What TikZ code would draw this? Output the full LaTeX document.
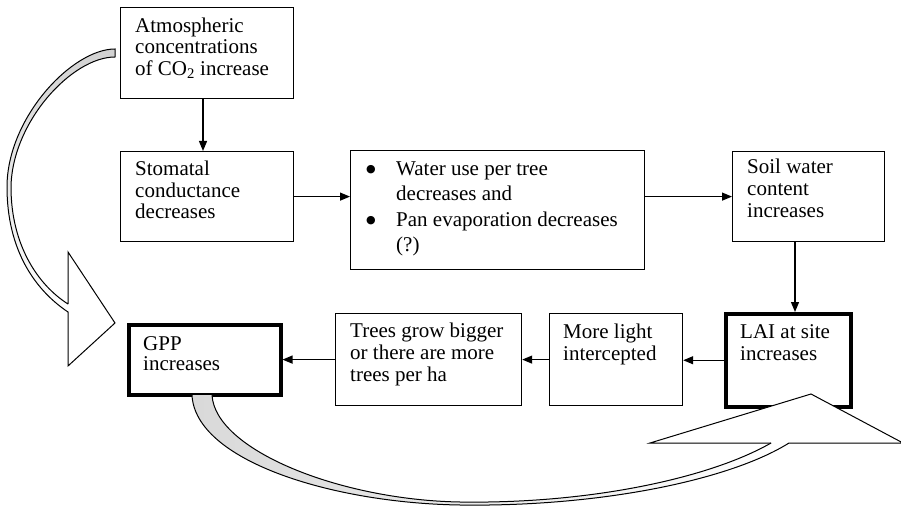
\documentclass[tikz,border=0pt]{standalone}
\usepackage{fontspec}
\setmainfont{Liberation Serif}
\newfontfamily\symfont{DejaVu Sans}
\usetikzlibrary{arrows.meta,calc}
\newcommand{\mybul}{\makebox[30pt][l]{\raisebox{2.5pt}{\symfont\fontsize{11}{11}\selectfont ●}}}
\begin{document}
\begin{tikzpicture}[x=1pt,y=-1pt,
  box/.style={draw,line width=1.2pt,inner sep=0pt,anchor=north west},
  boldbox/.style={draw,line width=3.5pt,inner sep=0pt,anchor=north west},
  txt/.style={anchor=north west,inner sep=0pt,align=left,font=\fontsize{21}{21.7}\selectfont},
  arr/.style={line width=1.2pt,-{Triangle[length=10pt,width=8pt]}},
  bigline/.style={line width=1pt,line join=miter}]
\useasboundingbox (0,0) rectangle (901,510);
% boxes
\node[box,minimum width=173pt,minimum height=91pt] (b1) at (120,7) {};
\node[box,minimum width=173pt,minimum height=90pt] (b2) at (120,151) {};
\node[box,minimum width=294pt,minimum height=119pt] (b3) at (350,150) {};
\node[box,minimum width=152pt,minimum height=90pt] (b4) at (732,151) {};
\node[boldbox,minimum width=125pt,minimum height=93pt] (b5) at (724,312) {};
\node[box,minimum width=133pt,minimum height=92pt] (b6) at (549,313) {};
\node[box,minimum width=186pt,minimum height=92pt] (b7) at (335,313) {};
\node[boldbox,minimum width=152pt,minimum height=70pt] (b8) at (127,323) {};
% texts
\node[txt] (t1) at (135,17.4) {Atmospheric\\concentrations\\of CO\textsubscript{2} increase};
\node[txt] (t2) at (135,160.7) {Stomatal\\conductance\\decreases};
\node[txt,font=\fontsize{21}{25.5}\selectfont] (t3) at (366,161.1) {\mybul Water use per tree\\\hspace*{30pt}decreases and\\\mybul Pan evaporation decreases\\\hspace*{30pt}(?)};
\node[txt] (t4) at (747,159) {Soil water\\content\\increases};
\node[txt] (t5) at (740,324.4) {LAI at site\\increases};
\node[txt] (t6) at (563,324) {More light\\intercepted};
\node[txt,font=\fontsize{21}{22.3}\selectfont] (t7) at (350,322.4) {Trees grow bigger\\or there are more\\trees per ha};
\node[txt,font=\fontsize{21}{20.7}\selectfont] (t8) at (143,336.1) {GPP\\increases};
% connectors
\coordinate (x1) at (203,0);
\coordinate (x2) at (795,0);
\draw[arr] (b1.south -| x1) -- (b2.north -| x1);
\draw[arr] (b2.east) -- (b2.east -| b3.west);
\draw[arr] (b3.east |- b4.west) -- (b4.west);
\draw[arr] (b4.south -| x2) -- (b5.north -| x2);
\draw[arr] (b5.west) -- (b5.west -| b6.east);
\draw[arr] (b6.west) -- (b6.west -| b7.east);
\draw[arr] (b7.west) -- (b7.west -| b8.east);
% left big curved arrow
\shade[top color=gray!35,bottom color=white] (115,49) .. controls (72,49) and (7,118) .. (7,187) .. controls (7,250) and (35,290) .. (68,312) -- (68,304) .. controls (38,285) and (11,245) .. (11,187) .. controls (12,122) and (72,57) .. (115,57) -- cycle;
\fill[white] (68,252) -- (115,323) -- (68,366) -- cycle;
\draw[bigline] (68,304) -- (68,252) -- (115,323) -- (68,366) -- (68,312) .. controls (35,290) and (7,250) .. (7,187) .. controls (7,118) and (72,49) .. (115,49) -- (115,57) .. controls (72,57) and (12,122) .. (11,187) .. controls (11,245) and (38,285) .. (68,304);
% bottom big curved arrow
\shade[left color=gray!30,right color=white] (192,395) .. controls (195,460) and (330,503) .. (460,505) .. controls (600,507) and (730,480) .. (789,443) -- (771,443) .. controls (710,478) and (590,504) .. (460,502) .. controls (340,500) and (215,450) .. (212,395) -- cycle;
\fill[white] (650,443) -- (811,394) -- (903,443) -- cycle;
\draw[bigline] (771,443) -- (650,443) -- (811,394) -- (903,443) -- (789,443) .. controls (730,480) and (600,507) .. (460,505) .. controls (330,503) and (195,460) .. (192,395);
\draw[bigline] (212,395) .. controls (215,450) and (340,500) .. (460,502) .. controls (590,504) and (710,478) .. (771,443);
\end{tikzpicture}
\end{document}
